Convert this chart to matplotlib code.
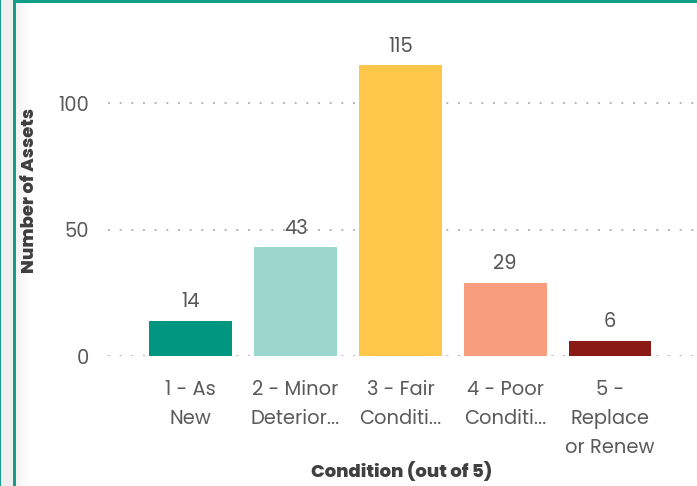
import numpy as np
import matplotlib.pyplot as plt
from matplotlib.patches import Rectangle

categories = ["1 - As\nNew", "2 - Minor\nDeterior...", "3 - Fair\nConditi...",
              "4 - Poor\nConditi...", "5 -\nReplace\nor Renew"]
counts = [14, 43, 115, 29, 6]
bar_colors = ["#009680", "#9dd6cd", "#ffc74a", "#f89e7e", "#8a1a15"]
yticks = [0, 50, 100]

W, H = 697, 486
plt.rcParams["font.family"] = ["Poppins", "Lato", "DejaVu Sans"]

fig = plt.figure(figsize=(W / 100, H / 100), dpi=100)
fig.patch.set_facecolor("white")

# dashboard frame bits: left strip + top teal band
teal = "#129e88"
fig.patches.append(Rectangle((0, 0), 14 / W, 1, transform=fig.transFigure,
                             facecolor="#efefef", edgecolor="none", zorder=0))
fig.patches.append(Rectangle((0, 0), 1.2 / W, 1, transform=fig.transFigure,
                             facecolor=teal, edgecolor="none", zorder=1))
fig.patches.append(Rectangle((13.5 / W, 0), 2.5 / W, 1, transform=fig.transFigure,
                             facecolor=teal, edgecolor="none", zorder=1))
fig.patches.append(Rectangle((16 / W, 1 - 3 / H), 1, 3 / H, transform=fig.transFigure,
                             facecolor=teal, edgecolor="none", zorder=1))
# faint shadow inside the panel
for k in range(14):
    a = 0.05 * (1 - k / 14)
    fig.patches.append(Rectangle(((16 + k) / W, 0), 1 / W, 1 - 3 / H,
                                 transform=fig.transFigure, facecolor="black",
                                 alpha=a, edgecolor="none", zorder=1))

ax = fig.add_axes([108 / W, (H - 356) / H, 1 - 108 / W, (356 - 40) / H])
x = np.arange(len(categories))
bars = ax.bar(x, counts, width=0.79, color=bar_colors, zorder=3)

for xi, v in zip(x, counts):
    ax.text(xi, v + 3.3, str(v), ha="center", va="bottom", fontsize=14,
            color="#555555")

ax.set_xlim(-0.79, 4.83)
ax.set_ylim(0, 125)
ax.set_yticks(yticks)
ax.set_xticks(x)
ax.set_xticklabels(categories, fontsize=14, color="#5a5a5a", linespacing=1.6,
                   va="top")
ax.tick_params(axis="y", labelsize=14, labelcolor="#5a5a5a", length=0, pad=13.5)
ax.tick_params(axis="x", length=0, pad=17)
for t in yticks:
    ax.axhline(t, color="#b5b5b5", linestyle=(0, (1, 5)), linewidth=1.4, zorder=1)
for s in ax.spines.values():
    s.set_visible(False)

ax.set_ylabel("Number of Assets", fontsize=13, fontweight=800, color="#404040")
ax.yaxis.set_label_coords(-(108 - 39) / (W - 108), (356 - 190) / (356 - 40))
ax.set_xlabel("Condition (out of 5)", fontsize=13, fontweight=800,
              color="#404040")
ax.xaxis.set_label_coords((402 - 108) / (W - 108), -(462 - 356) / (356 - 40))

fig.savefig("out.png", dpi=100)
